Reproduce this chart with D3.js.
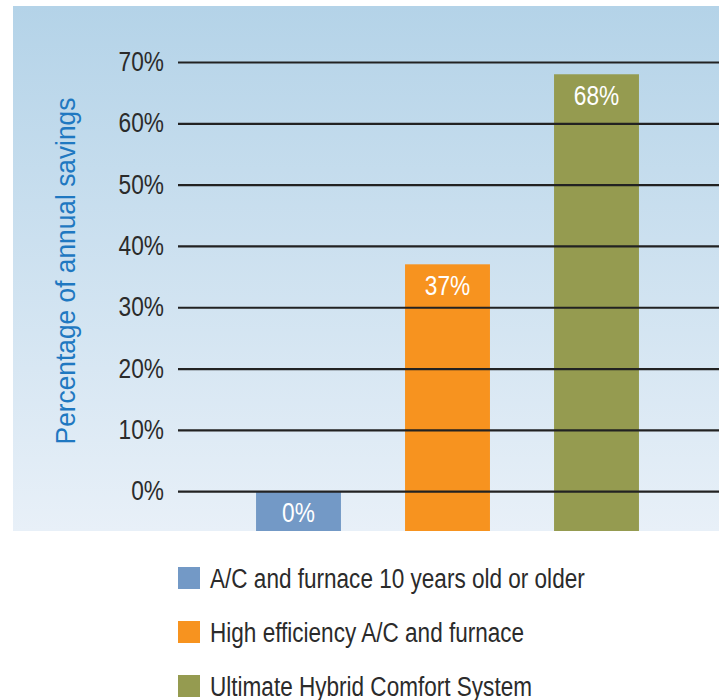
<!DOCTYPE html>
<html>
<head>
<meta charset="utf-8">
<script src="https://cdn.jsdelivr.net/npm/d3@7"></script>
<style>
  body { margin: 0; background: #fff; }
  text { font-family: "Liberation Sans", Arial, sans-serif; }
</style>
</head>
<body>
<div class="canvas"></div>
<script>
//DATA
var categories = ['A/C and furnace 10 years old or older', 'High efficiency A/C and furnace', 'Ultimate Hybrid Comfort System'];
var savings = [0, 37, 68];
var barLabels = ['0%', '37%', '68%'];
var tickValues = [0, 10, 20, 30, 40, 50, 60, 70];
var colors = ['#7399c6', '#f7931f', '#959b50'];

//SIZE
var w = 724, h = 700;
var panel = { left: 13, top: 6, right: 719, bottom: 531 };
var grid = { left: 178, right: 719 };

const svg = d3.select('.canvas').append('svg')
  .attr('width', w)
  .attr('height', h);

//HELPER - squeeze text to look like a condensed face
function condense(sel, k) {
  sel.each(function() {
    var len = this.getComputedTextLength();
    d3.select(this)
      .attr('textLength', len * k)
      .attr('lengthAdjust', 'spacingAndGlyphs');
  });
}

//BACKGROUND
var defs = svg.append('defs');
var bg = defs.append('linearGradient')
  .attr('id', 'bg-grad')
  .attr('x1', '0%').attr('y1', '0%')
  .attr('x2', '0%').attr('y2', '100%');
bg.append('stop').attr('offset', '0%').attr('stop-color', '#b4d3e8');
bg.append('stop').attr('offset', '100%').attr('stop-color', '#e8f0f8');

svg.append('rect')
  .attr('x', panel.left)
  .attr('y', panel.top)
  .attr('width', panel.right - panel.left)
  .attr('height', panel.bottom - panel.top)
  .attr('fill', 'url(#bg-grad)');

//SCALES
var y = d3.scaleLinear()
  .domain([-6.5, 70])
  .range([panel.bottom, 62]);

var x = d3.scaleBand()
  .domain(categories)
  .range([224, 671])
  .paddingInner(0.43)
  .paddingOuter(0.215);

//BARS
svg.append('g')
  .selectAll('rect')
  .data(categories)
  .enter().append('rect')
    .attr('x', d => x(d))
    .attr('width', x.bandwidth())
    .attr('y', (d, i) => y(savings[i]))
    .attr('height', (d, i) => y(-6.5) - y(savings[i]))
    .attr('fill', (d, i) => colors[i]);

//GRID + TICKS
var axis = svg.append('g')
  .attr('transform', 'translate(' + grid.left + ',0)')
  .call(d3.axisLeft(y)
    .tickValues(tickValues)
    .tickSize(-(grid.right - grid.left))
    .tickPadding(14)
    .tickFormat(d => d + '%'));

axis.select('.domain').remove();
axis.selectAll('.tick line')
  .attr('stroke', '#222')
  .attr('stroke-width', 2.2);
axis.selectAll('.tick text')
  .attr('fill', '#2b2b2b')
  .attr('font-size', 27)
  .attr('font-family', '"Liberation Sans", Arial, sans-serif')
  .call(condense, 0.84);

//BAR LABELS
svg.append('g')
  .selectAll('text')
  .data(categories)
  .enter().append('text')
    .attr('x', d => x(d) + x.bandwidth() / 2)
    .attr('y', (d, i) => y(savings[i]) + 31)
    .attr('text-anchor', 'middle')
    .attr('fill', '#fff')
    .attr('font-size', 27)
    .text((d, i) => barLabels[i])
    .call(condense, 0.84);

//Y TITLE
svg.append('text')
  .attr('transform', 'translate(75,271) rotate(-90)')
  .attr('text-anchor', 'middle')
  .attr('fill', '#1f78c1')
  .attr('font-size', 28)
  .text('Percentage of annual savings')
  .call(condense, 0.94);

//LEGEND
var legend = svg.append('g')
  .selectAll('g')
  .data(categories)
  .enter().append('g')
    .attr('transform', (d, i) => 'translate(178,' + (567 + i * 54) + ')');

legend.append('rect')
  .attr('width', 22)
  .attr('height', 22)
  .attr('fill', (d, i) => colors[i]);

legend.append('text')
  .attr('x', 32)
  .attr('y', 21)
  .attr('fill', '#2b2b2b')
  .attr('font-size', 27)
  .text(d => d)
  .call(condense, 0.835);
</script>
</body>
</html>
